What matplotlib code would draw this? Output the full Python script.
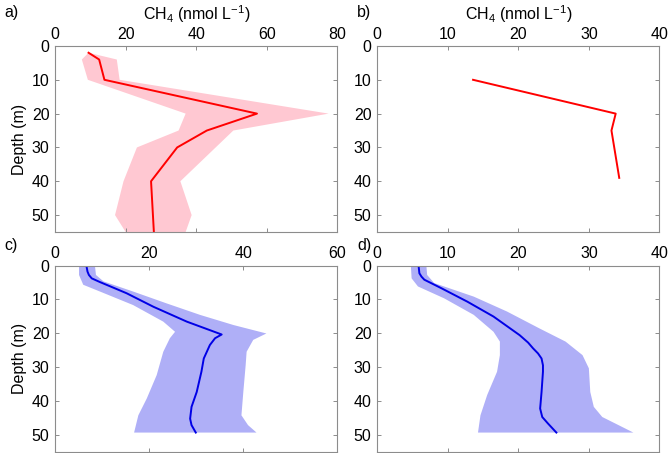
#
# plot.py
#
# Four CH4 depth profiles (a-d) on a 2x2 grid, x axis on top,
# depth increasing downwards. Mean line plus a shaded range.
#

import matplotlib
matplotlib.use("Agg")
import matplotlib.pyplot as plt

plt.rcParams['font.family'] = ['Liberation Sans', 'DejaVu Sans']
plt.rcParams['mathtext.fontset'] = 'custom'
plt.rcParams['mathtext.rm'] = 'Liberation Sans'
plt.rcParams['mathtext.it'] = 'Liberation Sans:italic'

# --- panel a: measured profile with range ---
a_depth = [2, 4, 10, 20, 25, 30, 40, 55]
a_ch4 = [9.5, 12.5, 14.0, 57.2, 43.0, 34.6, 27.2, 28.0]
a_lo_depth = [2, 4, 10, 20, 25, 30, 40, 50, 55]
a_lo = [9.5, 7.6, 9.3, 37.0, 35.0, 23.2, 19.4, 17.0, 20.0]
a_hi_depth = [2, 4, 10, 20, 25, 40, 50, 55]
a_hi = [9.5, 17.5, 18.3, 77.5, 50.5, 35.5, 38.7, 37.0]

# --- panel b: measured profile ---
b_depth = [10, 20, 25, 39]
b_ch4 = [13.6, 33.8, 33.2, 34.3]

# --- panel c: modelled profile with range ---
c_depth = [0.3, 1.8, 2.8, 3.8, 4.9, 6.5, 8.2, 12.2, 16.6, 20.4, 21.5,
           23.5, 27.5, 31.4, 37.4, 41.8, 45.3, 47.2, 49.4]
c_ch4 = [6.7, 6.9, 7.2, 7.8, 9.55, 12.3, 15.2, 20.9, 28.0, 35.4, 34.0,
         32.9, 31.6, 31.1, 30.1, 29.0, 28.7, 29.0, 29.9]
c_lo_depth = [0.3, 2.8, 5.7, 7.7, 11.7, 16.6, 19.6, 21.5, 25.5, 32.4,
              39.3, 44.3, 49.4]
c_lo = [5.1, 5.1, 6.0, 9.55, 16.6, 23.0, 25.5, 24.4, 23.0, 21.6, 19.5,
        17.7, 16.8]
c_hi_depth = [0.3, 2.8, 4.7, 7.7, 11.2, 14.6, 17.6, 20.1, 22.0, 25.5,
              29.4, 37.4, 44.3, 47.2, 49.4]
c_hi = [8.5, 8.7, 10.3, 16.6, 23.7, 30.8, 37.9, 44.9, 42.1, 40.7, 40.5,
        40.0, 39.6, 41.0, 42.8]

# --- panel d: modelled profile with range ---
d_depth = [0.3, 2.3, 3.3, 4.2, 6.7, 10.7, 15.1, 20.6, 22.8, 24.5, 26.0,
           27.5, 29.5, 31.4, 37.4, 42.3, 44.8, 46.7, 49.4]
d_ch4 = [5.9, 6.0, 6.3, 6.7, 9.1, 12.8, 16.5, 20.2, 21.4, 22.1, 22.8,
         23.3, 23.5, 23.5, 23.3, 23.1, 23.4, 24.2, 25.4]
d_lo_depth = [0.3, 3.8, 6.2, 9.7, 14.6, 19.6, 22.5, 26.5, 31.4, 38.3,
              44.3, 49.4]
d_lo = [4.8, 4.9, 5.8, 9.5, 13.7, 16.5, 17.4, 17.4, 17.0, 15.6, 14.65, 14.3]
d_hi_depth = [0.3, 2.8, 5.2, 9.2, 13.6, 18.6, 22.5, 26.5, 30.4, 37.4,
              41.8, 44.8, 47.2, 49.4]
d_hi = [7.0, 7.1, 8.1, 13.7, 18.4, 23.0, 26.7, 29.1, 30.0, 30.2, 30.7,
        31.9, 34.2, 36.3]

x_limits = {'a': 80, 'b': 40, 'c': 60, 'd': 40}
x_steps = {'a': 20, 'b': 10, 'c': 20, 'd': 10}

PINK = '#FFC8D2'
LIGHT_BLUE = '#AFAFF7'
GREY = '#8C8C8C'
FS = 11.5

fig = plt.figure(figsize=(6.7, 4.53), dpi=100)

# axes boxes in figure fractions: left, bottom, width, height
boxes = {
    'a': [0.0821, 0.4879, 0.4216, 0.4106],
    'b': [0.5627, 0.4879, 0.4216, 0.4106],
    'c': [0.0821, 0.0033, 0.4216, 0.4106],
    'd': [0.5627, 0.0033, 0.4216, 0.4106],
}

axes = {}
for key, box in boxes.items():
    ax = fig.add_axes(box)
    ax.set_xlim(0, x_limits[key])
    ax.set_ylim(55, 0)
    ax.set_xticks(range(0, x_limits[key] + 1, x_steps[key]))
    ax.set_yticks(range(0, 51, 10))
    ax.xaxis.tick_top()
    ax.tick_params(axis='both', direction='in', length=3, width=0.7,
                   color=GREY, labelsize=FS, pad=4,
                   top=True, bottom=True, left=True, right=True)
    ax.tick_params(axis='x', pad=3)
    for sp in ax.spines.values():
        sp.set_color(GREY)
        sp.set_linewidth(0.8)
    axes[key] = ax

# a) measured range and profile
ax = axes['a']
ax.fill(a_lo + a_hi[::-1], a_lo_depth + a_hi_depth[::-1],
        color=PINK, lw=0)
ax.plot(a_ch4, a_depth, color='red', lw=1.4)

# b) measured profile only
axes['b'].plot(b_ch4, b_depth, color='red', lw=1.4)

# c) and d) modelled ranges and profiles
for key, lo, lo_d, hi, hi_d, val, dep in [
        ('c', c_lo, c_lo_depth, c_hi, c_hi_depth, c_ch4, c_depth),
        ('d', d_lo, d_lo_depth, d_hi, d_hi_depth, d_ch4, d_depth)]:
    ax = axes[key]
    ax.fill(lo + hi[::-1], lo_d + hi_d[::-1], color=LIGHT_BLUE, lw=0)
    ax.plot(val, dep, color='#0000E6', lw=1.4)

# labels
for key in ('a', 'b'):
    axes[key].xaxis.set_label_position('top')
    axes[key].set_xlabel('CH$_4$ (nmol L$^{-1}$)', fontsize=FS, labelpad=5)
for key in ('a', 'c'):
    axes[key].set_ylabel('Depth (m)', fontsize=FS, labelpad=3)

fig.text(0.007, 0.972, 'a)', fontsize=FS, va='center')
fig.text(0.533, 0.972, 'b)', fontsize=FS, va='center')
fig.text(0.007, 0.459, 'c)', fontsize=FS, va='center')
fig.text(0.533, 0.459, 'd)', fontsize=FS, va='center')

fig.savefig('out.png', dpi=100)
